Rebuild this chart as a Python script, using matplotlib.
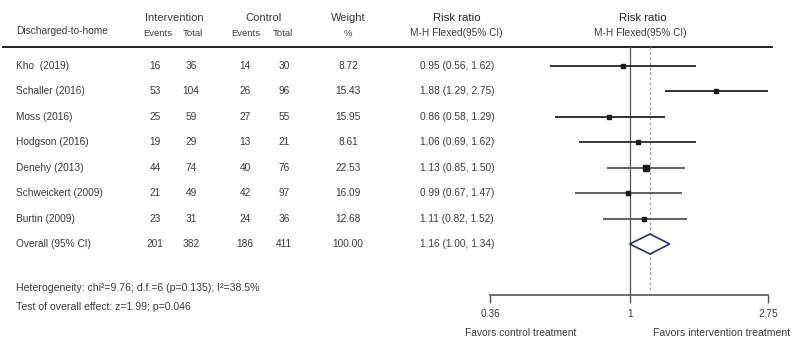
import matplotlib.pyplot as plt
from matplotlib.patches import Polygon

plt.rcParams['font.family'] = ['Liberation Sans', 'DejaVu Sans']

# Study data
studies = ['Kho  (2019)', 'Schaller (2016)', 'Moss (2016)', 'Hodgson (2016)',
           'Denehy (2013)', 'Schweickert (2009)', 'Burtin (2009)']
int_events = [16, 53, 25, 19, 44, 21, 23]
int_total = [36, 104, 59, 29, 74, 49, 31]
ctl_events = [14, 26, 27, 13, 40, 42, 24]
ctl_total = [30, 96, 55, 21, 76, 97, 36]
weights = [8.72, 15.43, 15.95, 8.61, 22.53, 16.09, 12.68]
rr = [0.95, 1.88, 0.86, 1.06, 1.13, 0.99, 1.11]
lo = [0.56, 1.29, 0.58, 0.69, 0.85, 0.67, 0.82]
hi = [1.62, 2.75, 1.29, 1.62, 1.50, 1.47, 1.52]

overall_label = 'Overall (95% CI)'
overall_counts = [201, 382, 186, 411]
overall_weight = 100.00
overall_rr, overall_lo, overall_hi = 1.16, 1.00, 1.34

axis_ticks = [0.36, 1, 2.75]
axis_labels = ['0.36', '1', '2.75']

W, H = 792, 337
fig = plt.figure(figsize=(W / 100, H / 100), dpi=100)

# text layer in pixel coordinates
tx = fig.add_axes([0, 0, 1, 1])
tx.set_xlim(0, W)
tx.set_ylim(H, 0)
tx.axis('off')

tc = '#3a3a3a'
row0, step = 66, 25.43


def rowy(i):
    return row0 + step * i


# header
tx.text(16, 31, 'Discharged-to-home', fontsize=7.3, color=tc, va='center')
tx.text(174, 18, 'Intervention', fontsize=8, color=tc, ha='center', va='center')
tx.text(264, 18, 'Control', fontsize=8, color=tc, ha='center', va='center')
tx.text(348, 18, 'Weight', fontsize=8, color=tc, ha='center', va='center')
tx.text(457, 18, 'Risk ratio', fontsize=8.2, color='#222', ha='center', va='center')
tx.text(643, 18, 'Risk ratio', fontsize=8.2, color='#222', ha='center', va='center')
for x, s in [(158, 'Events'), (193, 'Total'), (246, 'Events'), (283, 'Total')]:
    tx.text(x, 33, s, fontsize=6.8, color=tc, ha='center', va='center')
tx.text(348, 33, '%', fontsize=6.8, color=tc, ha='center', va='center')
tx.text(456, 33, 'M-H Flexed(95% CI)', fontsize=7.3, color=tc, ha='center', va='center')
tx.text(640, 33, 'M-H Flexed(95% CI)', fontsize=7.3, color=tc, ha='center', va='center')
tx.plot([3, 772], [46.5, 46.5], color='#111', lw=1.3)

cols = [155, 191, 245, 284]
rows = list(zip(studies, int_events, int_total, ctl_events, ctl_total, weights, rr, lo, hi))
for i, (name, a, b, c, d, w, r, l, h) in enumerate(rows):
    y = rowy(i)
    tx.text(16, y, name, fontsize=7.3, color=tc, va='center')
    for x, v in zip(cols, [a, b, c, d]):
        tx.text(x, y, str(v), fontsize=7.3, color=tc, ha='center', va='center')
    tx.text(348, y, f'{w:.2f}', fontsize=7.3, color=tc, ha='center', va='center')
    tx.text(457, y, f'{r:.2f} ({l:.2f}, {h:.2f})', fontsize=7.3, color=tc,
            ha='center', va='center')

y = rowy(len(studies))
tx.text(16, y, overall_label, fontsize=7.3, color=tc, va='center')
for x, v in zip(cols, overall_counts):
    tx.text(x, y, str(v), fontsize=7.3, color=tc, ha='center', va='center')
tx.text(348, y, f'{overall_weight:.2f}', fontsize=7.3, color=tc, ha='center', va='center')
tx.text(457, y, f'{overall_rr:.2f} ({overall_lo:.2f}, {overall_hi:.2f})',
        fontsize=7.3, color=tc, ha='center', va='center')

tx.text(16, 288, 'Heterogeneity: chi\u00b2=9.76; d.f.=6 (p=0.135); I\u00b2=38.5%',
        fontsize=7.6, color=tc, va='center')
tx.text(16, 307, 'Test of overall effect: z=1.99; p=0.046',
        fontsize=7.6, color=tc, va='center')
tx.text(465, 333, 'Favors control treatment', fontsize=7.4, color=tc, va='center')
tx.text(653, 333, 'Favors intervention treatment', fontsize=7.6, color=tc, va='center')

# forest panel
x0, x1, ytop, ybot = 490, 768, 47, 295
ax = fig.add_axes([x0 / W, (H - ybot) / H, (x1 - x0) / W, (ybot - ytop) / H])
ax.set_xscale('log')
ax.set_xlim(axis_ticks[0], axis_ticks[-1])
ymin = (ytop - row0) / step
ymax = (ybot - row0) / step
ax.set_ylim(ymax, ymin)
ax.patch.set_alpha(0)
for s in ['top', 'left', 'right']:
    ax.spines[s].set_visible(False)
ax.spines['bottom'].set_color('#555')
ax.spines['bottom'].set_linewidth(1.2)
ax.set_yticks([])
ax.set_xticks(axis_ticks)
ax.set_xticklabels(axis_labels)
ax.minorticks_off()
ax.tick_params(axis='x', direction='out', length=6, width=1, color='#555',
               labelsize=7.3, labelcolor=tc, pad=4)

ax.axvline(1, color='#555', lw=0.9)
ax.plot([overall_rr, overall_rr], [ymin, ymax - 0.2], color='#a0a0a0', lw=0.9,
        dashes=(2, 2))

line_colors = ['#222', '#222', '#222', '#2a2a2a', '#555', '#555', '#555']
for i, (w, r, l, h) in enumerate(zip(weights, rr, lo, hi)):
    ax.plot([l, h], [i, i], color=line_colors[i], lw=1.3, solid_capstyle='butt',
            clip_on=False)
    ax.plot(r, i, marker='s', ms=2.5 + w * 0.06, color='#1a1a1a', clip_on=False)

yo = len(studies)
dh = 10 / step
ax.add_patch(Polygon([(overall_lo, yo), (overall_rr, yo - dh), (overall_hi, yo),
                      (overall_rr, yo + dh)], closed=True, facecolor='white',
                     edgecolor='#2b2d6e', lw=1.2, zorder=3))

fig.savefig('out.png', dpi=100)
